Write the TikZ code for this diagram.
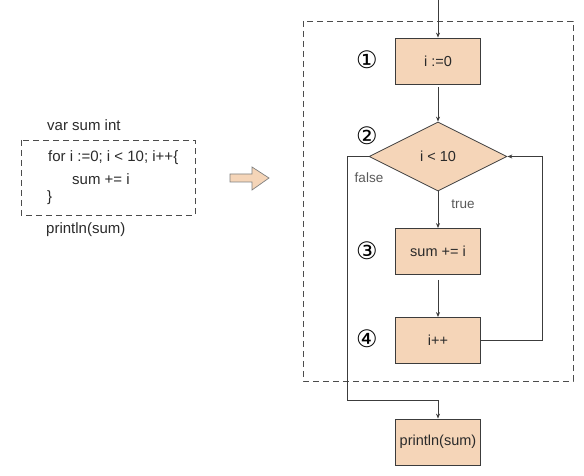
\documentclass[tikz,border=0pt]{standalone}
\usepackage{fontspec}
\setmainfont{Liberation Sans}
\newfontfamily\circfont{DejaVu Sans}
\usetikzlibrary{shapes.geometric,arrows.meta}
\definecolor{peach}{HTML}{F5D5B8}
\definecolor{edge}{HTML}{3C3C3C}
\definecolor{txt}{HTML}{2A2A2A}
\tikzset{
  stepbox/.style={draw=edge,fill=peach,line width=0.8pt,minimum width=85pt,minimum height=46pt,inner sep=0pt,text=txt,font=\fontsize{14.5}{16}\selectfont},
  decbox/.style={draw=edge,fill=peach,line width=0.8pt,diamond,aspect=2,minimum width=138pt,minimum height=69pt,inner sep=0pt,text=txt,font=\fontsize{14.5}{16}\selectfont},
  flow/.style={draw=edge,line width=0.8pt,-{Stealth[length=5pt,width=4pt]}},
  codetext/.style={anchor=west,inner sep=0pt,text=txt,font=\fontsize{15}{17}\selectfont},
  numlabel/.style={inner sep=0pt,text=black,font=\circfont\fontsize{24}{24}\selectfont},
  condlabel/.style={inner sep=0pt,text=black!65,font=\fontsize{13.5}{15}\selectfont},
  dashbox/.style={draw=black!70,line width=0.8pt,dash pattern=on 6pt off 4pt},
}
\begin{document}
\begin{tikzpicture}[x=1pt,y=1pt]
\useasboundingbox (0,0) rectangle (584,-476);
% left code
\node[codetext] (v) at (47,-125) {var sum int};
\draw[dashbox] (21,-140) rectangle (195,-215);
\node[codetext] (f) at (48,-158) {for i :=0; i < 10; i++\{};
\node[codetext] (s) at (72,-179) {sum += i};
\node[codetext] (c) at (47,-198) {\}};
\node[codetext] (p) at (46,-230) {println(sum)};
% hollow arrow
\draw[draw=black!50,fill=peach,line width=0.7pt] (230,-174) -- (252,-174) -- (252,-167) -- (269,-178) -- (252,-190) -- (252,-182) -- (230,-182) -- cycle;
% right dashed region
\draw[dashbox] (303,-21) rectangle (573,-381);
% flow nodes
\node[stepbox] (b1) at (438,-61) {i :=0};
\node[decbox] (d) at (438,-156.5) {i < 10};
\node[stepbox] (b3) at (438,-251.5) {sum += i};
\node[stepbox] (b4) at (438,-340.5) {i++};
\node[stepbox] (b5) at (438,-442) {println(sum)};
% numbers
\node[numlabel] (n1) at (367,-60) {①};
\node[numlabel] (n2) at (367,-136) {②};
\node[numlabel] (n3) at (367,-251) {③};
\node[numlabel] (n4) at (367,-339) {④};
% labels
\node[condlabel] (lf) at (369,-178) {false};
\node[condlabel] (lt) at (463,-204) {true};
% connectors
\coordinate (top) at (438,0);
\draw[flow] (top) -- (b1.north);
\draw[flow,shorten <=3pt] (b1.south) -- (d.north);
\draw[flow] (d.south) -- (b3.north);
\draw[flow,shorten <=5pt] (b3.south) -- (b4.north);
\draw[flow] (b4.east) -- (542,-340.5) -- (542,-156.5) -- (d.east);
\draw[flow] (d.west) -- (347,-156.5) -- (347,-400) -- (438,-400) -- (b5.north);
\end{tikzpicture}
\end{document}
